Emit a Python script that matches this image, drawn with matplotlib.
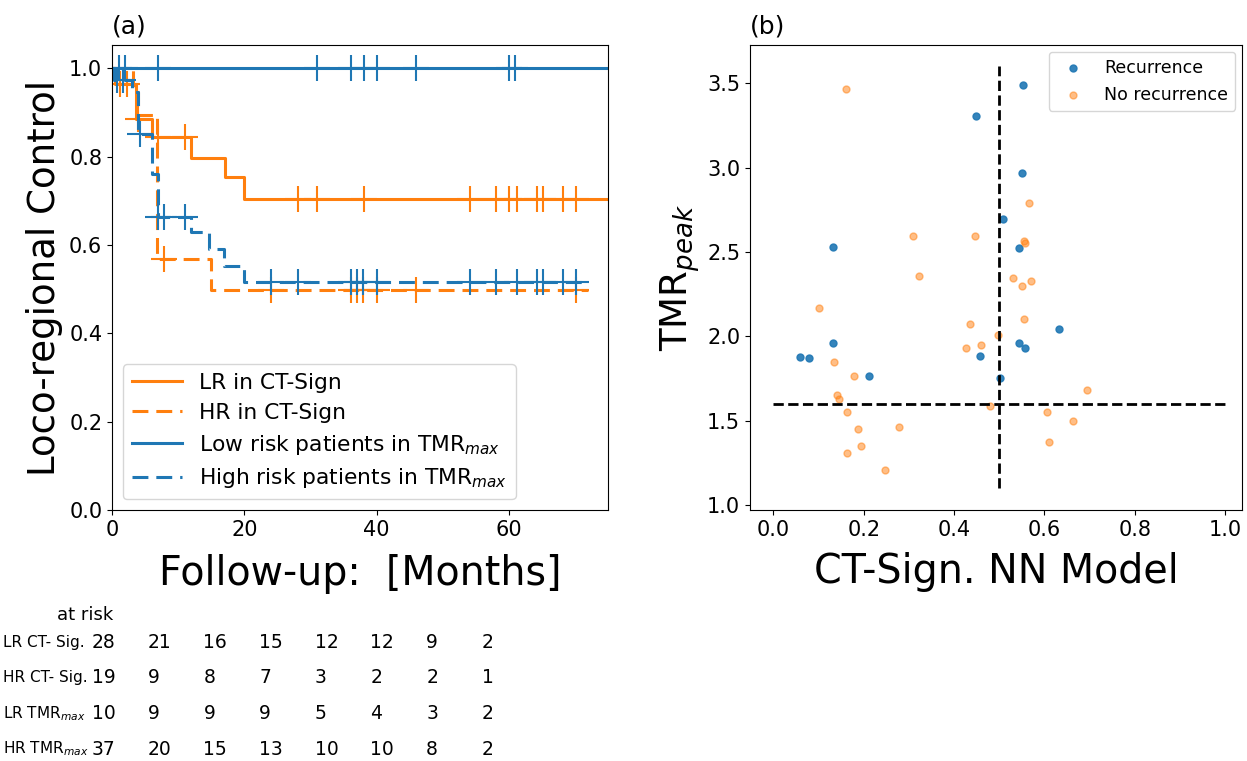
import matplotlib
matplotlib.use("Agg")
import matplotlib.pyplot as plt
import numpy as np

# --- Kaplan-Meier curves (a): step times, survival after each step, censor times
lr_ct_t = [0, 0.5, 3.6, 6.0, 11.9, 17.1, 20.0]
lr_ct_s = [1.0, 0.964, 0.885, 0.845, 0.798, 0.753, 0.704]
lr_ct_c = [1.2, 2.2, 4.0, 7.0, 11.0, 28.1, 31.0, 38.1, 54.1, 58.1, 60.0, 61.2, 64.2, 65.2, 68.2, 70.2]
lr_ct_end = 76

hr_ct_t = [0, 3.2, 4.0, 6.8, 15.0]
hr_ct_s = [1.0, 0.947, 0.895, 0.569, 0.499]
hr_ct_c = [7.8, 24.0, 36.2, 37.0, 38.0, 40.0, 46.0, 70.2]
hr_ct_end = 72

lr_tmr_t = [0]
lr_tmr_s = [1.0]
lr_tmr_c = [1.0, 2.0, 6.9, 31.0, 36.1, 38.1, 40.0, 46.0, 60.1, 60.9]
lr_tmr_end = 76

hr_tmr_t = [0, 0.3, 3.0, 4.0, 6.0, 6.9, 11.9, 14.7, 17.0, 20.0]
hr_tmr_s = [1.0, 0.973, 0.946, 0.852, 0.762, 0.664, 0.630, 0.592, 0.553, 0.517]
hr_tmr_c = [0.7, 1.7, 4.3, 7.0, 7.9, 11.0, 24.0, 28.1, 36.2, 37.0, 38.0, 40.0,
            54.1, 58.1, 61.2, 64.2, 65.2, 68.2, 70.2]
hr_tmr_end = 72

# at-risk table
risk_rows = ['LR CT- Sig.', 'HR CT- Sig.', 'LR TMR$_{max}$', 'HR TMR$_{max}$']
risk_counts = [[28, 21, 16, 15, 12, 12, 9, 2],
               [19, 9, 8, 7, 3, 2, 2, 1],
               [10, 9, 9, 9, 5, 4, 3, 2],
               [37, 20, 15, 13, 10, 10, 8, 2]]

# --- scatter (b)
rec_x = [0.553, 0.448, 0.551, 0.508, 0.132, 0.543, 0.631, 0.132, 0.543, 0.556,
         0.457, 0.058, 0.078, 0.212, 0.501]
rec_y = [3.49, 3.305, 2.966, 2.696, 2.531, 2.524, 2.042, 1.958, 1.962, 1.929,
         1.885, 1.877, 1.869, 1.764, 1.754]
no_x = [0.160, 0.566, 0.308, 0.446, 0.555, 0.557, 0.323, 0.530, 0.570, 0.551,
        0.102, 0.435, 0.555, 0.497, 0.459, 0.426, 0.135, 0.179, 0.694, 0.141,
        0.146, 0.479, 0.164, 0.606, 0.662, 0.187, 0.279, 0.194, 0.611, 0.163, 0.247]
no_y = [3.464, 2.788, 2.595, 2.593, 2.567, 2.551, 2.357, 2.347, 2.326, 2.296,
        2.167, 2.071, 2.103, 2.008, 1.946, 1.929, 1.847, 1.764, 1.680, 1.649,
        1.631, 1.585, 1.549, 1.552, 1.498, 1.448, 1.464, 1.351, 1.373, 1.305, 1.210]
x_cut = 0.5
y_cut = 1.6

blue = '#1f77b4'
orange = '#ff7f0e'

fig = plt.figure(figsize=(12.47, 7.61), dpi=100)
W, H = 1247, 761
ax1 = fig.add_axes([112/W, 1-510/H, 496/W, 465/H])
ax2 = fig.add_axes([750/W, 1-510/H, 492/W, 465/H])


def km(ax, t, s, cens, end, color, ls, label):
    tt = list(t) + [end]
    ss = list(s) + [s[-1]]
    line, = ax.step(tt, ss, where='post', color=color, lw=2.2, label=label)
    if ls == 'dashed':
        line.set_dashes((5.2, 2.6))
    idx = np.searchsorted(t, cens, side='right') - 1
    ax.plot(cens, np.array(s)[idx], '+', color=color, ms=19, mew=1.5)


km(ax1, lr_ct_t, lr_ct_s, lr_ct_c, lr_ct_end, orange, 'solid', 'LR in CT-Sign')
km(ax1, hr_ct_t, hr_ct_s, hr_ct_c, hr_ct_end, orange, 'dashed', 'HR in CT-Sign')
km(ax1, lr_tmr_t, lr_tmr_s, lr_tmr_c, lr_tmr_end, blue, 'solid', 'Low risk patients in TMR$_{max}$')
km(ax1, hr_tmr_t, hr_tmr_s, hr_tmr_c, hr_tmr_end, blue, 'dashed', 'High risk patients in TMR$_{max}$')

ax1.set_xlim(0, 75)
ax1.set_ylim(0, 1.053)
ax1.set_xticks([0, 20, 40, 60])
ax1.set_yticks([0, 0.2, 0.4, 0.6, 0.8, 1.0])
ax1.tick_params(labelsize=15)
ax1.set_xlabel('Follow-up:  [Months]', fontsize=28.5, labelpad=10)
ax1.set_ylabel('Loco-regional Control', fontsize=26.7)
ax1.set_title('(a)', loc='left', fontsize=18, pad=8)
ax1.legend(loc='lower left', fontsize=15.7, handlelength=2.3, labelspacing=0.45)

# at-risk table under panel (a)
fig.text(57/W, 1-615/H, 'at risk', fontsize=13, va='center')
for i, (name, counts) in enumerate(zip(risk_rows, risk_counts)):
    yy = 1 - (642 + 35.7*i)/H
    fig.text(3/W, yy, name, fontsize=11, va='center')
    for j, n in enumerate(counts):
        fig.text((92 + 55.7*j)/W, yy, str(n), fontsize=13.5, va='center')

# panel (b)
ax2.scatter(rec_x, rec_y, s=25, color=blue, alpha=0.9, label='Recurrence')
ax2.scatter(no_x, no_y, s=25, color=orange, alpha=0.5, label='No recurrence')
ax2.plot([x_cut, x_cut], [1.1, 3.6], '--', color='black', lw=2)
ax2.plot([0, 1], [y_cut, y_cut], '--', color='black', lw=2)
ax2.set_xlim(-0.0516, 1.037)
ax2.set_ylim(0.970, 3.727)
ax2.set_xticks([0, 0.2, 0.4, 0.6, 0.8, 1.0])
ax2.set_yticks([1.0, 1.5, 2.0, 2.5, 3.0, 3.5])
ax2.tick_params(labelsize=15)
ax2.set_xlabel('CT-Sign. NN Model', fontsize=28.5, labelpad=9)
ax2.set_ylabel('TMR$_{peak}$', fontsize=26.7)
ax2.set_title('(b)', loc='left', fontsize=18, pad=8)
ax2.legend(loc='upper right', fontsize=12.5, borderaxespad=0.4)

fig.savefig('out.png', dpi=100)
